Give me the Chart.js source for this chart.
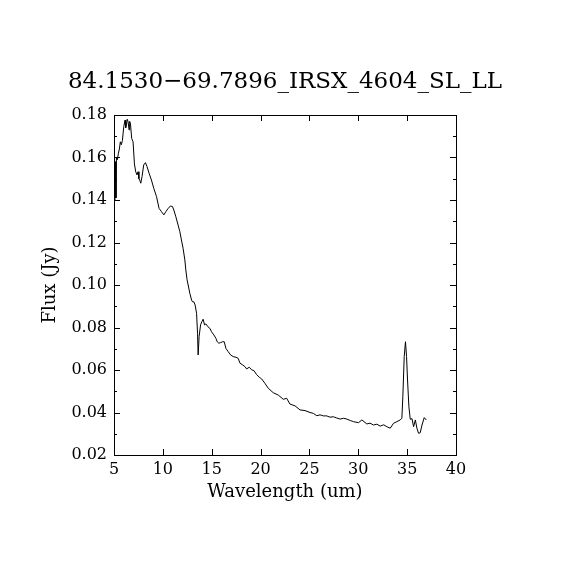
<!DOCTYPE html>
<html>
<head>
<meta charset="utf-8">
<script src="https://cdn.jsdelivr.net/npm/chart.js@4"></script>
<style>
  body { margin: 0; background: #fff; }
</style>
</head>
<body>
<canvas id="chart" width="570" height="570"></canvas>
<script>
const wavelength = [
  5.1, 5.15, 5.2, 5.25, 5.35, 5.45, 5.55, 5.65, 5.75, 5.86,
  6.0, 6.13, 6.2, 6.27, 6.35, 6.44, 6.54, 6.6, 6.68, 6.81,
  6.95, 7.09, 7.22, 7.36, 7.46, 7.55, 7.63, 7.74, 7.87, 8.04,
  8.22, 8.38, 8.59, 8.83, 9.07, 9.35, 9.61, 9.86, 10.1, 10.3,
  10.54, 10.78, 10.99, 11.12, 11.33, 11.56, 11.74, 11.9, 12.07, 12.25,
  12.35, 12.48, 12.59, 12.76, 12.94, 13.04, 13.17, 13.3, 13.45, 13.55,
  13.61, 13.71, 13.86, 13.99, 14.12, 14.27, 14.4, 14.6, 14.81, 14.98,
  15.22, 15.43, 15.56, 15.73, 15.91, 16.11, 16.28, 16.45, 16.69, 16.93,
  17.2, 17.48, 17.71, 17.89, 18.16, 18.4, 18.57, 18.84, 19.09, 19.32,
  19.6, 19.87, 20.11, 20.45, 20.79, 21.3, 21.81, 22.33, 22.67, 23.0,
  23.53, 24.04, 24.55, 25.06, 25.4, 25.75, 26.09, 26.43, 26.77, 27.1,
  27.45, 27.8, 28.14, 28.5, 28.83, 29.2, 29.51, 30.02, 30.37, 30.88,
  31.2, 31.56, 31.9, 32.24, 32.6, 32.93, 33.27, 33.6, 33.95, 34.29,
  34.46, 34.56, 34.7, 34.83, 34.94, 35.04, 35.18, 35.32, 35.5, 35.66,
  35.84, 36.0, 36.17, 36.34, 36.52, 36.75, 36.96
];

const flux = [
  0.140, 0.158, 0.141, 0.160, 0.159, 0.162, 0.164, 0.1674, 0.166, 0.168,
  0.1745, 0.1776, 0.174, 0.1753, 0.178, 0.1769, 0.173, 0.177, 0.1761, 0.169,
  0.1674, 0.157, 0.1533, 0.1518, 0.1533, 0.150, 0.1494, 0.1479, 0.151, 0.1565,
  0.1576, 0.1557, 0.1526, 0.1494, 0.1455, 0.1416, 0.1361, 0.1345, 0.133, 0.1345,
  0.136, 0.1372, 0.1369, 0.1353, 0.1321, 0.1282, 0.1251, 0.1212, 0.1173, 0.1118,
  0.1071, 0.1024, 0.100, 0.0961, 0.0929, 0.0921, 0.0921, 0.0906, 0.0867, 0.0773,
  0.0671, 0.0757, 0.0812, 0.0827, 0.0839, 0.0812, 0.0817, 0.0804, 0.0796, 0.078,
  0.0765, 0.0749, 0.0733, 0.0726, 0.0729, 0.0733, 0.0733, 0.0702, 0.0686, 0.0671,
  0.0663, 0.066, 0.0655, 0.0632, 0.0624, 0.0616, 0.0605, 0.0613, 0.0601, 0.0597,
  0.0578, 0.0566, 0.0558, 0.0537, 0.0514, 0.0493, 0.0482, 0.0462, 0.0467, 0.044,
  0.0431, 0.0412, 0.0409, 0.040, 0.0396, 0.0385, 0.0389, 0.0384, 0.0384, 0.0378,
  0.038, 0.0374, 0.0369, 0.0373, 0.0369, 0.0362, 0.0357, 0.0352, 0.0365, 0.0346,
  0.0350, 0.0341, 0.0345, 0.0336, 0.0342, 0.0333, 0.0326, 0.0349, 0.0357, 0.0365,
  0.0373, 0.0474, 0.0663, 0.0733, 0.0663, 0.0553, 0.0427, 0.0368, 0.0371, 0.0333,
  0.0365, 0.0326, 0.0302, 0.0305, 0.0341, 0.0376, 0.0365
];

const xTicks = [5, 10, 15, 20, 25, 30, 35, 40];
const yTicks = [0.02, 0.04, 0.06, 0.08, 0.10, 0.12, 0.14, 0.16, 0.18];
const yMinorTicks = [0.03, 0.05, 0.07, 0.09, 0.11, 0.13, 0.15, 0.17];

const titleText = "84.1530\u221269.7896_IRSX_4604_SL_LL";
const fontFamily = "'DejaVu Serif', serif";

// frame + inward ticks on all four sides
const frameTicks = {
  id: "frameTicks",
  afterDraw(chart) {
    const {ctx, chartArea: a, scales: {x, y}} = chart;
    ctx.save();
    ctx.strokeStyle = "#000";
    ctx.lineWidth = 1;
    ctx.beginPath();
    xTicks.forEach(v => {
      const px = Math.round(x.getPixelForValue(v)) + 0.5;
      ctx.moveTo(px, a.bottom); ctx.lineTo(px, a.bottom - 6);
      ctx.moveTo(px, a.top); ctx.lineTo(px, a.top + 6);
    });
    yTicks.forEach(v => {
      const py = Math.round(y.getPixelForValue(v)) + 0.5;
      ctx.moveTo(a.left, py); ctx.lineTo(a.left + 6, py);
      ctx.moveTo(a.right, py); ctx.lineTo(a.right - 6, py);
    });
    yMinorTicks.forEach(v => {
      const py = Math.round(y.getPixelForValue(v)) + 0.5;
      ctx.moveTo(a.left, py); ctx.lineTo(a.left + 3, py);
      ctx.moveTo(a.right, py); ctx.lineTo(a.right - 3, py);
    });
    ctx.stroke();
    ctx.strokeRect(Math.round(a.left) + 0.5, Math.round(a.top) + 0.5,
      Math.round(a.right - a.left), Math.round(a.bottom - a.top));
    ctx.restore();
  }
};

const points = wavelength.map((w, i) => ({x: w, y: flux[i]}));

new Chart(document.getElementById("chart"), {
  type: "line",
  data: {
    datasets: [{
      data: points,
      borderColor: "#000",
      borderWidth: 1,
      pointRadius: 0,
      tension: 0,
      fill: false
    }]
  },
  options: {
    responsive: false,
    animation: false,
    devicePixelRatio: 1,
    layout: { padding: 0 },
    plugins: {
      legend: { display: false },
      tooltip: { enabled: false },
      title: {
        display: true,
        text: titleText,
        color: "#000",
        font: { family: fontFamily, size: 23, weight: "normal" },
        padding: { top: 68, bottom: 19.4 }
      }
    },
    scales: {
      x: {
        type: "linear",
        min: 5,
        max: 40,
        afterBuildTicks(scale) { scale.ticks = xTicks.map(v => ({value: v})); },
        afterFit(scale) { scale.height = 115; },
        grid: { display: false, drawTicks: false },
        border: { display: false },
        ticks: {
          color: "#000",
          padding: 5,
          maxRotation: 0,
          font: { family: fontFamily, size: 16 }
        },
        title: {
          display: true,
          text: "Wavelength (um)",
          color: "#000",
          font: { family: fontFamily, size: 18 },
          padding: { top: 0, bottom: 67 }
        }
      },
      y: {
        type: "linear",
        min: 0.02,
        max: 0.18,
        afterBuildTicks(scale) { scale.ticks = yTicks.map(v => ({value: v})); },
        afterFit(scale) { scale.width = 114; },
        grid: { display: false, drawTicks: false },
        border: { display: false },
        ticks: {
          color: "#000",
          padding: 7,
          font: { family: fontFamily, size: 16 },
          callback: v => v.toFixed(2)
        },
        title: {
          display: true,
          text: "Flux (Jy)",
          color: "#000",
          font: { family: fontFamily, size: 18 },
          padding: { top: 40, bottom: 0 }
        }
      },
      yRight: {
        type: "linear",
        position: "right",
        min: 0.02,
        max: 0.18,
        afterFit(scale) { scale.width = 114; },
        grid: { display: false, drawTicks: false },
        border: { display: false },
        ticks: { display: false }
      }
    }
  },
  plugins: [frameTicks]
});
</script>
</body>
</html>
